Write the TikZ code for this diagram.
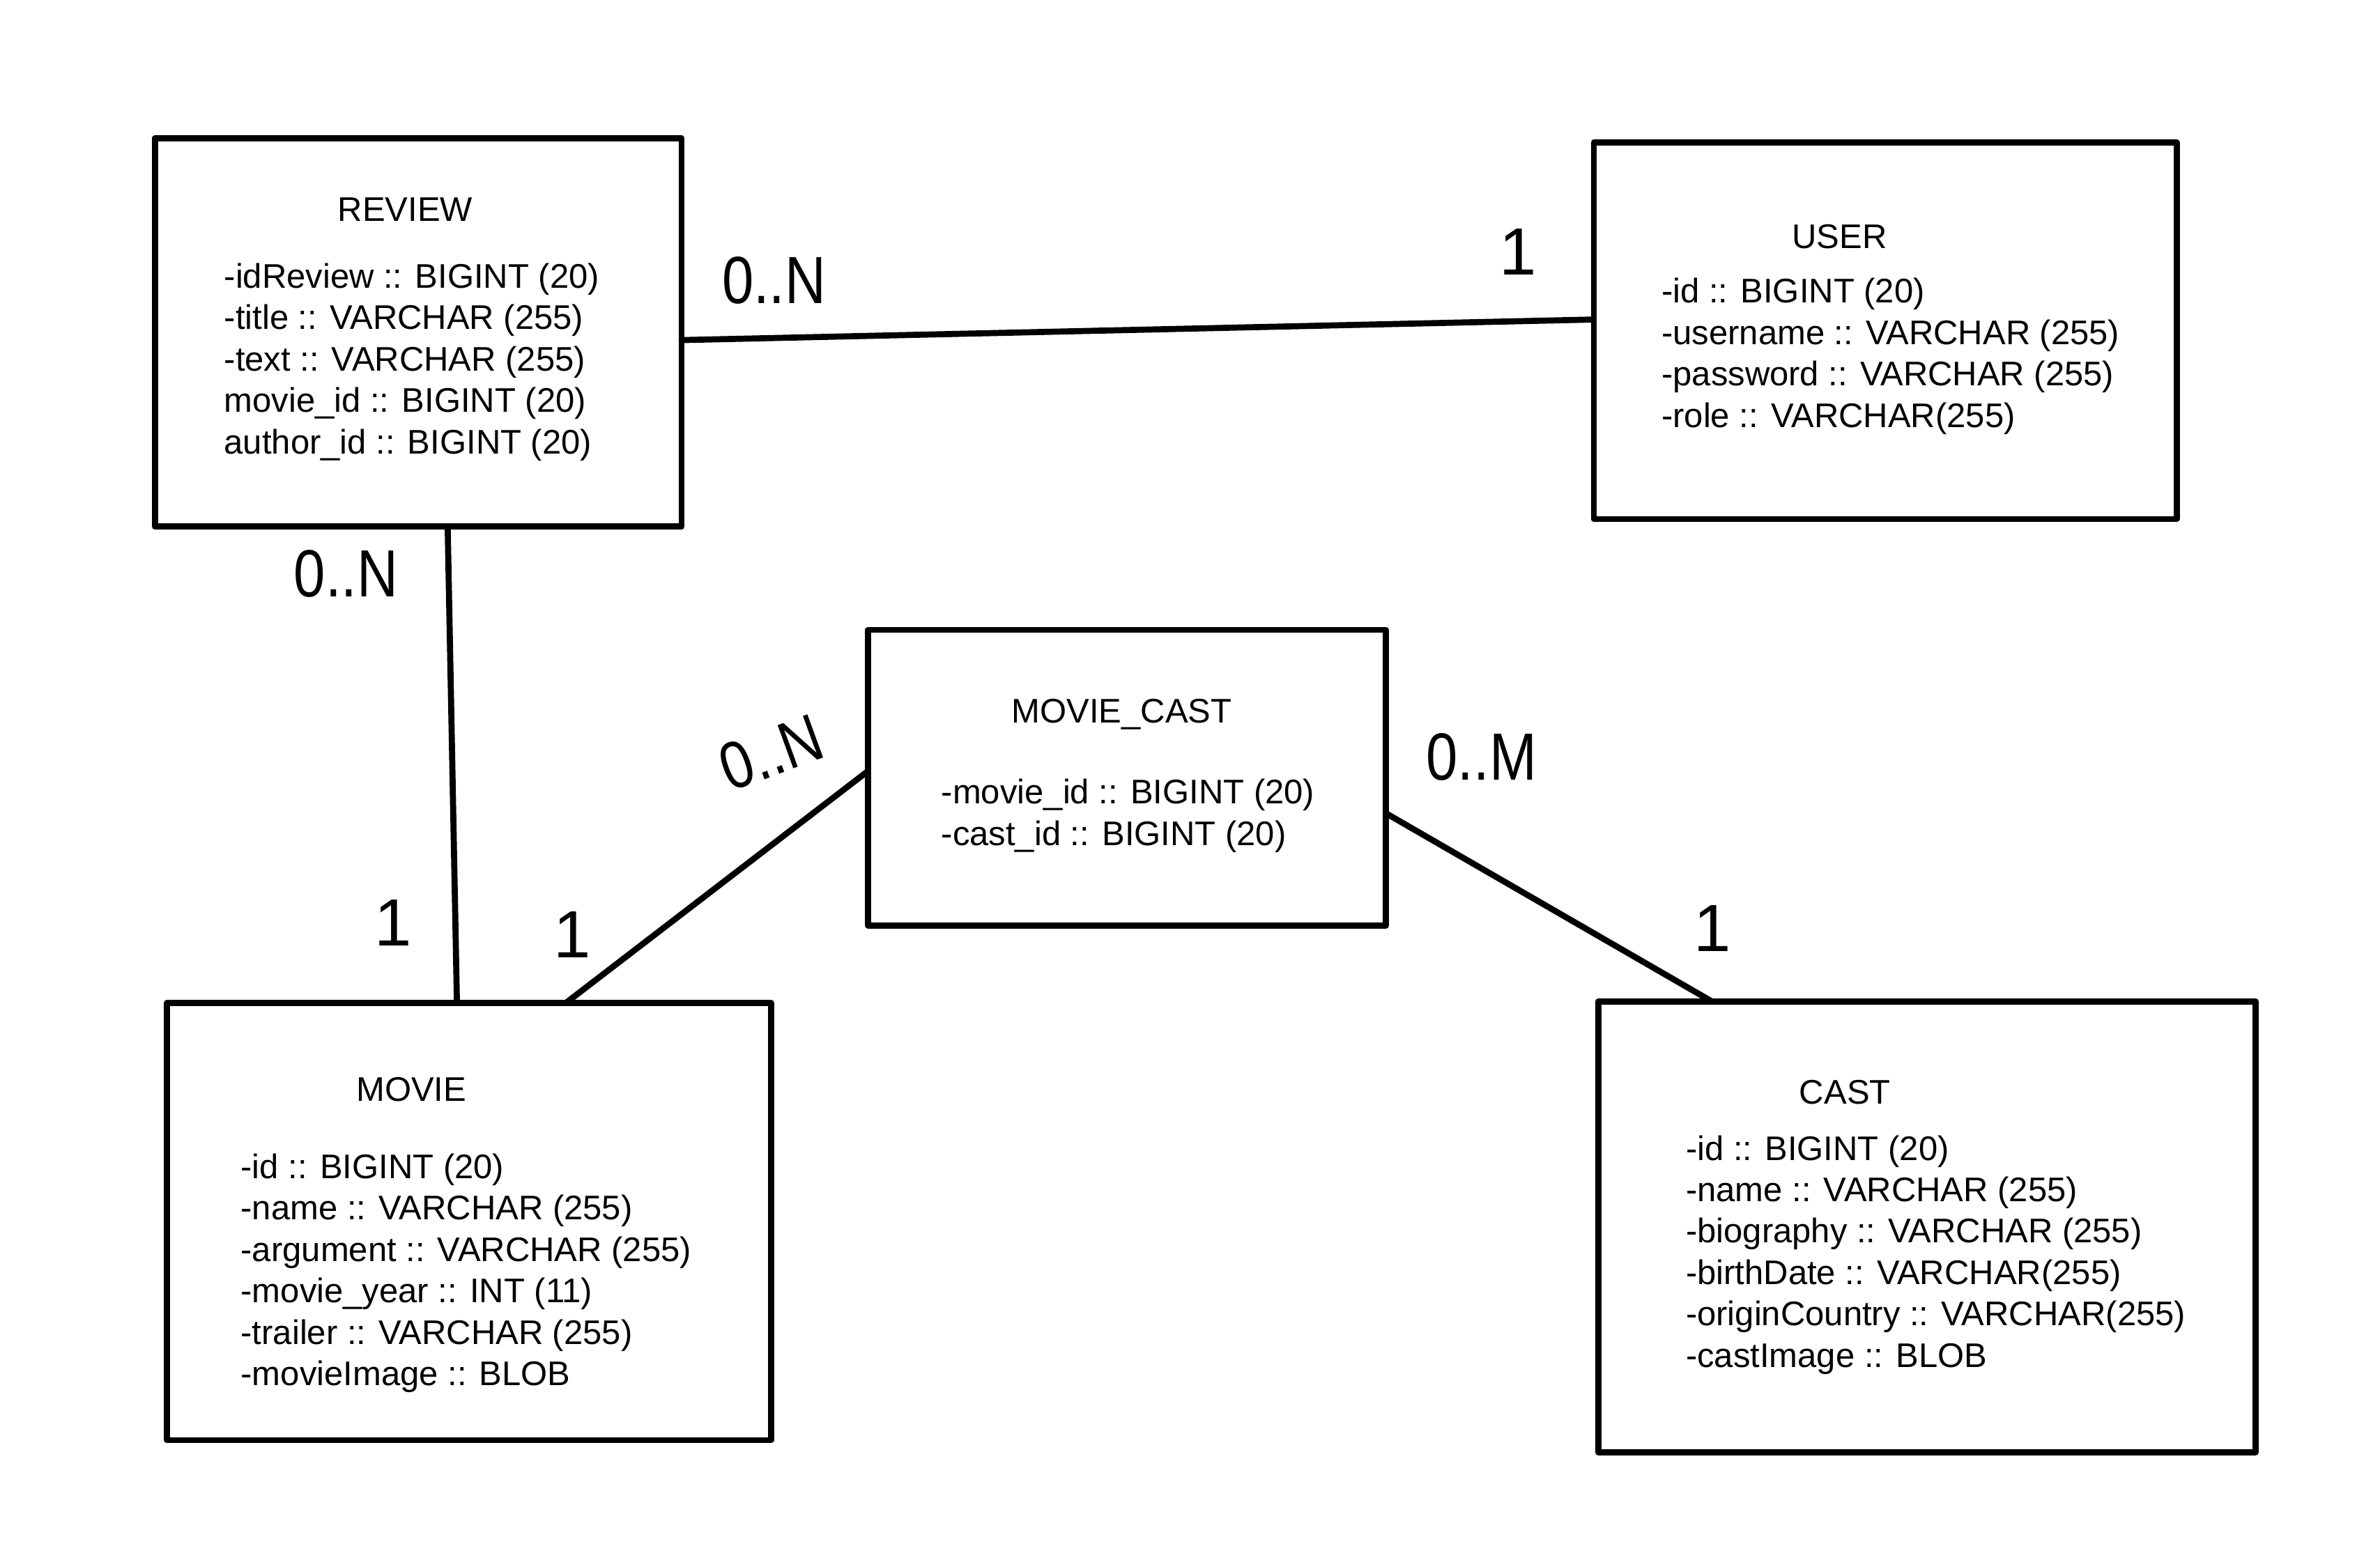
\documentclass[tikz,border=0pt]{standalone}
\usepackage{fontspec}
\setmainfont{Liberation Sans}
\usetikzlibrary{calc}

\tikzset{
  entity/.style={draw, line width=4pt, line join=round, inner sep=0pt, outer sep=0pt},
  tabname/.style={font=\fontsize{22.5}{27.3}\selectfont, inner sep=0pt, anchor=base},
  attrs/.style={font=\fontsize{22.5}{27.3}\selectfont, align=left, inner sep=0pt, anchor=base west},
  link/.style={line width=4pt, line cap=round},
  mult/.style={font=\fontsize{44}{44}\selectfont, inner sep=0pt}
}

\begin{document}
\begin{tikzpicture}[x=1pt,y=1pt,yscale=-1]
    \path[use as bounding box, fill=white] (0,0) rectangle (1568,1028);

    \node[entity, minimum width=347pt, minimum height=256pt] (review) at (275.5,219) {};
    \node[entity, minimum width=384pt, minimum height=248pt] (user) at (1242,218) {};
    \node[entity, minimum width=341pt, minimum height=195pt] (moviecast) at (742.5,512.5) {};
    \node[entity, minimum width=398pt, minimum height=288pt] (movie) at (309,805) {};
    \node[entity, minimum width=433pt, minimum height=297pt] (cast) at (1269.5,808.5) {};

    \node[tabname] (reviewname) at (267,146) {REVIEW};
    \node[attrs] (reviewattrs) at (147.5,299) {-idReview :: BIGINT (20)\\-title :: VARCHAR (255)\\-text :: VARCHAR (255)\\movie\_id :: BIGINT (20)\\author\_id :: BIGINT (20)};

    \node[tabname] (username) at (1212,163.5) {USER};
    \node[attrs] (userattrs) at (1094.5,281.5) {-id :: BIGINT (20)\\-username :: VARCHAR (255)\\-password :: VARCHAR (255)\\-role :: VARCHAR(255)};

    \node[tabname] (moviecastname) at (739,476.5) {MOVIE\_CAST};
    \node[attrs] (moviecastattrs) at (620,557) {-movie\_id :: BIGINT (20)\\-cast\_id :: BIGINT (20)};

    \node[tabname] (moviename) at (271,725.5) {MOVIE};
    \node[attrs] (movieattrs) at (158.5,913) {-id :: BIGINT (20)\\-name :: VARCHAR (255)\\-argument :: VARCHAR (255)\\-movie\_year :: INT (11)\\-trailer :: VARCHAR (255)\\-movieImage :: BLOB};

    \node[tabname] (castname) at (1215.5,727.5) {CAST};
    \node[attrs] (castattrs) at (1110.5,901) {-id :: BIGINT (20)\\-name :: VARCHAR (255)\\-biography :: VARCHAR (255)\\-birthDate :: VARCHAR(255)\\-originCountry :: VARCHAR(255)\\-castImage :: BLOB};

    \draw[link] ($(review.north east)!0.52!(review.south east)$) -- ($(user.north west)!0.47!(user.south west)$);
    \draw[link] ($(review.south west)!0.556!(review.south east)$) -- ($(movie.north west)!0.48!(movie.north east)$);
    \draw[link] ($(movie.north west)!0.66!(movie.north east)$) -- ($(moviecast.north west)!0.477!(moviecast.south west)$);
    \draw[link] ($(moviecast.north east)!0.62!(moviecast.south east)$) -- ($(cast.north west)!0.173!(cast.north east)$);

    \node[mult] (reviewmany) at (510,185) {\scalebox{0.85}[1]{0..N}};
    \node[mult] (userone) at (1000,166) {1};
    \node[mult] (reviewmanydown) at (228,378) {\scalebox{0.85}[1]{0..N}};
    \node[mult] (movieone) at (259,608) {1};
    \node[mult, rotate=20] (castmany) at (508,496) {\scalebox{0.85}[1]{0..N}};
    \node[mult] (movieonecast) at (377,616) {1};
    \node[mult] (moviemany) at (976,499) {\scalebox{0.85}[1]{0..M}};
    \node[mult] (castone) at (1128,612) {1};
\end{tikzpicture}
\end{document}
